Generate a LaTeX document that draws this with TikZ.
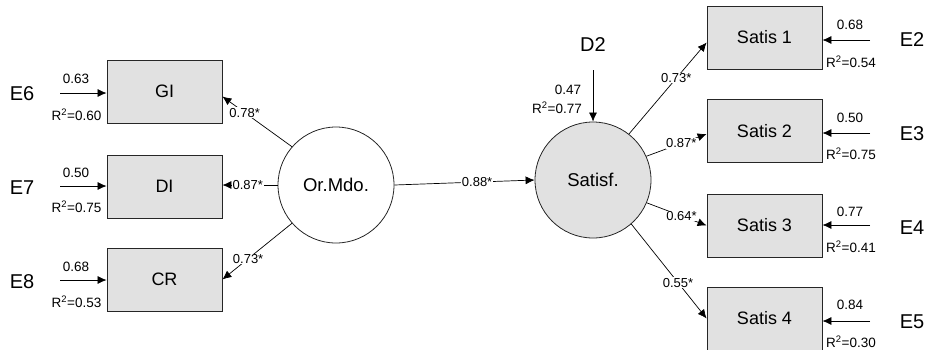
\documentclass[tikz,border=0pt]{standalone}
\usepackage{fontspec}
\setmainfont{Liberation Sans}
\usetikzlibrary{arrows.meta}
\definecolor{boxgray}{RGB}{225,225,225}
\begin{document}
\begin{tikzpicture}[x=1pt,y=-1pt,
 obs/.style={draw=black!85, fill=boxgray, minimum width=115pt, minimum height=63pt, inner sep=0pt, font=\fontsize{18}{21}\selectfont, line width=0.8pt},
 lat/.style={draw=black!85, circle, minimum size=116pt, inner sep=0pt, font=\fontsize{18.5}{22}\selectfont, line width=0.8pt},
 elab/.style={font=\fontsize{20}{24}\selectfont, inner sep=0pt},
 lbl/.style={font=\fontsize{13.5}{16}\selectfont, inner sep=0pt},
 plab/.style={font=\fontsize{13}{15}\selectfont, fill=white, inner sep=0.6pt},
 conn/.style={line width=0.7pt, -{Latex[length=9pt,width=8pt]}},
]
\useasboundingbox (0,0) rectangle (931,349);
\clip (0,0) rectangle (931,349);

% observed variables
\node[obs] (GI) at (164.5,91.5) {GI};
\node[obs] (DI) at (164.5,186.5) {DI};
\node[obs] (CR) at (164.5,279.5) {CR};
\node[obs] (s1) at (764.5,37.5) {Satis 1};
\node[obs] (s2) at (764.5,131) {Satis 2};
\node[obs] (s3) at (764.5,225.5) {Satis 3};
\node[obs] (s4) at (764.5,318.5) {Satis 4};

% latent variables
\node[lat] (or) at (336,185) {Or.Mdo.};
\node[lat, fill=boxgray] (sat) at (593,180) {Satisf.};

% error terms left
\node[elab] (E6) at (22,94) {E6};
\node[elab] (E7) at (22,188) {E7};
\node[elab] (E8) at (22,282) {E8};
\coordinate (e6s) at (60,93);
\coordinate (e7s) at (60,186);
\coordinate (e8s) at (60,280);
\draw[conn] (e6s) -- (e6s -| GI.west);
\draw[conn] (e7s) -- (e7s -| DI.west);
\draw[conn] (e8s) -- (e8s -| CR.west);
\node[lbl] (v6) at (76,79) {0.63};
\node[lbl] (r6) at (76.5,115) {R\textsuperscript{2}=0.60};
\node[lbl] (v7) at (76,173) {0.50};
\node[lbl] (r7) at (76.5,207) {R\textsuperscript{2}=0.75};
\node[lbl] (v8) at (76,267) {0.68};
\node[lbl] (r8) at (76.5,302) {R\textsuperscript{2}=0.53};

% error terms right
\node[elab] (E2) at (912,40) {E2};
\node[elab] (E3) at (912,134) {E3};
\node[elab] (E4) at (912,228) {E4};
\node[elab] (E5) at (912,322) {E5};
\coordinate (e2s) at (870,40);
\coordinate (e3s) at (870,133);
\coordinate (e4s) at (870,225);
\coordinate (e5s) at (870,321);
\draw[conn] (e2s) -- (e2s -| s1.east);
\draw[conn] (e3s) -- (e3s -| s2.east);
\draw[conn] (e4s) -- (e4s -| s3.east);
\draw[conn] (e5s) -- (e5s -| s4.east);
\node[lbl] (v2) at (850,25) {0.68};
\node[lbl] (r2) at (851,62) {R\textsuperscript{2}=0.54};
\node[lbl] (v3) at (850,118) {0.50};
\node[lbl] (r3) at (851,154) {R\textsuperscript{2}=0.75};
\node[lbl] (v4) at (850,212) {0.77};
\node[lbl] (r4) at (851,247) {R\textsuperscript{2}=0.41};
\node[lbl] (v5) at (850,305) {0.84};
\node[lbl] (r5) at (851,342) {R\textsuperscript{2}=0.30};

% disturbance
\node[elab] (D2) at (593,45) {D2};
\coordinate (d2s) at (593,70);
\draw[conn] (d2s) -- (sat.north);
\node[lbl] (vd) at (568,90) {0.47};
\node[lbl] (rd) at (557,108) {R\textsuperscript{2}=0.77};

% structural paths
\draw[conn] (or.139) -- ([yshift=-5pt]GI.east) node[plab,pos=0.68] (p1) {0.78*};
\draw[conn] (or.west) -- (or.west -| DI.east) node[plab,pos=0.54] (p2) {0.87*};
\draw[conn] (or.221) -- (CR.east) node[plab,pos=0.63] (p3) {0.73*};
\draw[conn] (or.east) -- (sat.west) node[plab,pos=0.59] (p4) {0.88*};
\draw[conn] (sat.52) -- ([yshift=-5pt]s1.west) node[plab,pos=0.61] (p5) {0.73*};
\draw[conn] (sat.24) -- ([yshift=-3pt]s2.west) node[plab,pos=0.58] (p6) {0.87*};
\draw[conn] (sat.-23) -- (s3.west) node[plab,pos=0.58] (p7) {0.64*};
\draw[conn] (sat.-49) -- (s4.west) node[plab,pos=0.62] (p8) {0.55*};
\end{tikzpicture}
\end{document}
